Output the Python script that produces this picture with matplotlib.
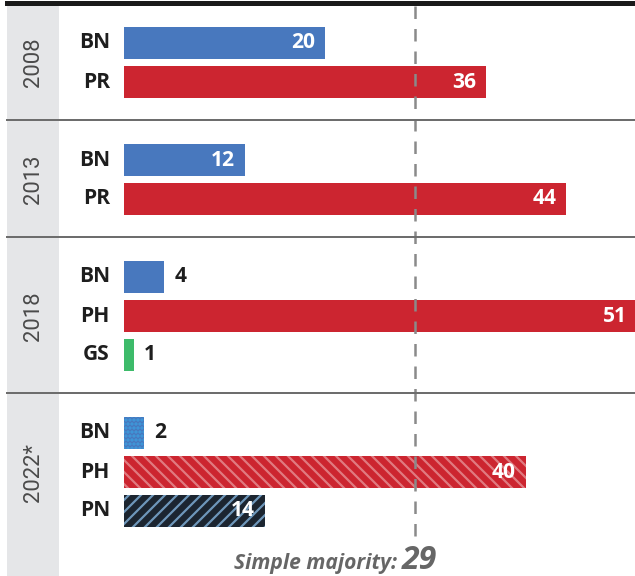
import matplotlib
matplotlib.use("Agg")
import matplotlib.pyplot as plt
from matplotlib.patches import Rectangle
from matplotlib.lines import Line2D

# data
years = ["2008", "2013", "2018", "2022*"]
parties = [["BN", "PR"], ["BN", "PR"], ["BN", "PH", "GS"], ["BN", "PH", "PN"]]
seats = [[20, 36], [12, 44], [4, 51, 1], [2, 40, 14]]
majority = 29

colors = {"BN": "#4878be", "PR": "#cc2530", "PH": "#cc2530", "GS": "#3dbb6a", "PN": "#1c2530"}
hatch_2022 = {"BN": ("...", "#3aa3e3"), "PH": ("\\\\", "#e07a80"), "PN": ("//", "#6e97ba")}

W, H = 635, 576
DPI = 72
plt.rcParams["hatch.linewidth"] = 2.2
plt.rcParams["font.family"] = ["Open Sans", "DejaVu Sans"]

fig = plt.figure(figsize=(W / DPI, H / DPI), dpi=DPI)
ax = fig.add_axes([0, 0, 1, 1])
px = 10.05          # pixels per seat
x0 = 124            # pixel where bars start
ax.set_xlim(-x0 / px, (W - x0) / px)
ax.set_ylim(H, 0)
ax.axis("off")

# left grey strip
fig.add_artist(Rectangle((7 / W, 0), 51 / W, 1 - 6 / H, transform=fig.transFigure,
                         color="#e5e6e8", zorder=0))
# top rule
fig.add_artist(Line2D([7 / W, 1], [1 - 3 / H, 1 - 3 / H], transform=fig.transFigure,
                      color="#1a1a1a", lw=5, zorder=5))

pitch = 39
start = 3
for g, (yr, names, vals) in enumerate(zip(years, parties, seats)):
    centers = [start + 40 + pitch * i for i in range(len(names))]
    for name, v, yc in zip(names, vals, centers):
        if yr.startswith("2022"):
            hatch, hc = hatch_2022[name]
            ax.barh(yc, v, height=32, color=colors[name], edgecolor=hc, hatch=hatch,
                    linewidth=0, zorder=2)
        else:
            ax.barh(yc, v, height=32, color=colors[name], linewidth=0, zorder=2)
        ax.text(-1.4, yc, name, ha="right", va="center", fontsize=21,
                fontweight="bold", color="#1e1e1e")
        if v >= 10:
            ax.text(v - 1.0, yc, str(v), ha="right", va="center", fontsize=21,
                    fontweight="bold", color="white", zorder=4)
        else:
            ax.text(v + 1.0, yc, str(v), ha="left", va="center", fontsize=21,
                    fontweight="bold", color="#1e1e1e", zorder=4)
    ymid = (centers[0] + centers[-1]) / 2
    fig.text(33 / W, 1 - ymid / H, yr, rotation=90, ha="center", va="center",
             fontsize=22, color="#4a4a4a", family=["Roboto", "DejaVu Sans"])
    end = start + pitch * (len(names) + 1)
    if g < len(years) - 1:
        fig.add_artist(Line2D([7 / W, 1], [1 - end / H, 1 - end / H],
                              transform=fig.transFigure, color="#6d6d6d", lw=2, zorder=1))
    start = end

# simple majority line
ax.plot([majority, majority], [6, 540], color="#8a8a8a", lw=2.5,
        dashes=(5, 4), zorder=3)
ax.text(majority - 1.8, 569, "Simple majority:", ha="right", va="baseline",
        fontsize=21, fontweight="bold", style="italic", color="#666666")
ax.text(majority - 1.4, 569, str(majority), ha="left", va="baseline",
        fontsize=32, fontweight="bold", style="italic", color="#666666")

fig.savefig("out.png", dpi=DPI)
